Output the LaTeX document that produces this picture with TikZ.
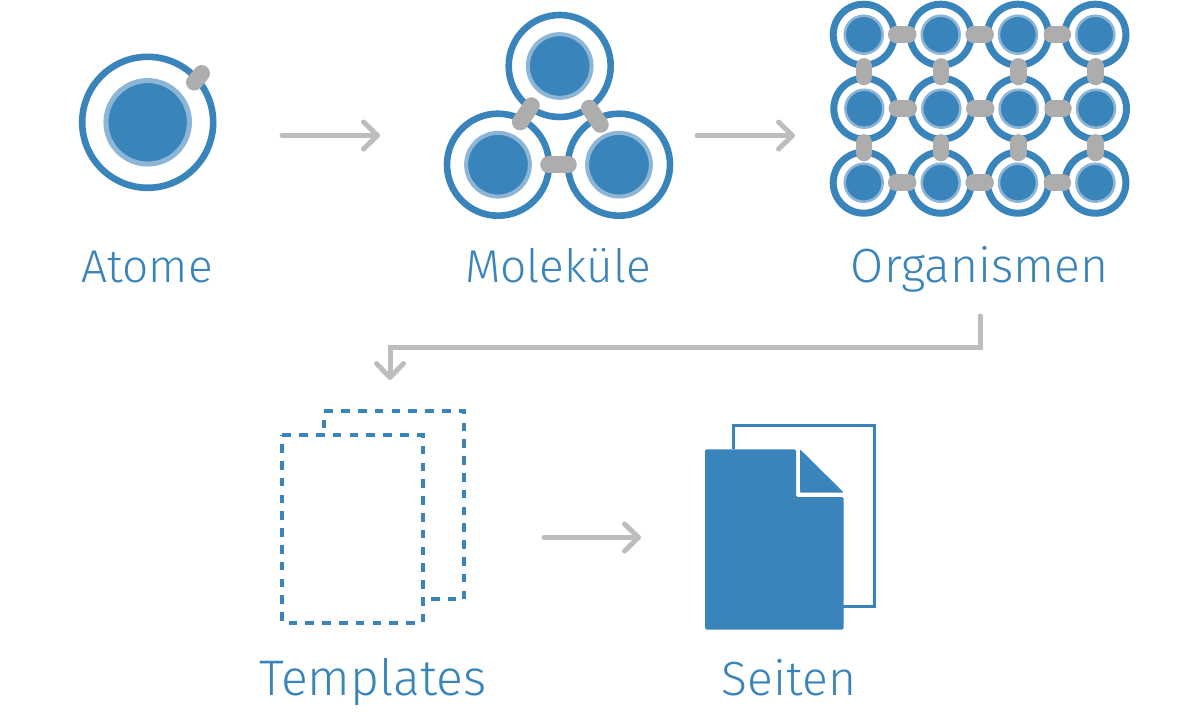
\documentclass[tikz,border=0pt]{standalone}
\usepackage{fontspec}
\setmainfont{Fira Sans Light}
\usetikzlibrary{calc,arrows.meta}
\definecolor{mainblue}{HTML}{3A84BC}
\definecolor{lightblue}{HTML}{8DB6D6}
\definecolor{bondgrey}{HTML}{ADADAD}
\definecolor{arrowgrey}{HTML}{BDBDBD}
\tikzset{
  x=1pt,y=-1pt,
  ringA/.style={circle,draw=mainblue,fill=white,line width=6.6pt,minimum size=131pt,inner sep=0pt},
  coreA/.style={circle,draw=lightblue,fill=mainblue,line width=5pt,minimum size=83.5pt,inner sep=0pt},
  ringM/.style={circle,draw=mainblue,fill=white,line width=6.6pt,minimum size=102pt,inner sep=0pt},
  coreM/.style={circle,draw=lightblue,fill=mainblue,line width=4pt,minimum size=63.7pt,inner sep=0pt},
  ringO/.style={circle,draw=mainblue,fill=white,line width=7pt,minimum size=61pt,inner sep=0pt},
  coreO/.style={circle,draw=lightblue,fill=mainblue,line width=2.5pt,minimum size=38pt,inner sep=0pt},
  bond/.style={draw=bondgrey,line width=16.5pt,line cap=round},
  flow/.style={draw=arrowgrey,line width=5pt,line cap=round,-{Straight Barb[round,length=14pt,width=27pt]}},
  label/.style={text=mainblue,inner sep=0pt,anchor=base},
  labelS/.style={label,font=\fontsize{46}{48}\selectfont},
  labelM/.style={label,font=\fontsize{48}{50}\selectfont},
  labelL/.style={label,font=\fontsize{50}{52}\selectfont},
  dashpage/.style={draw=mainblue,line width=4.2pt,dash pattern=on 8.6pt off 8.2pt},
}
\begin{document}
\begin{tikzpicture}
\useasboundingbox (0,0) rectangle (1200,712);
% Atom
\node[ringA] (atomring) at (147.7,122.3) {};
\node[coreA] (atomcore) at (147.7,122.3) {};
\coordinate (atomb1) at (194.3,82.3);
\coordinate (atomb2) at (201.7,73.3);
\draw[bond] (atomb1) -- (atomb2);
% Molecule
\node[ringM] (mt) at (559.7,66) {};
\node[coreM] (mtc) at (559.7,66) {};
\node[ringM] (ml) at (498,164.7) {};
\node[coreM] (mlc) at (498,164.7) {};
\node[ringM] (mr) at (619,164.7) {};
\node[coreM] (mrc) at (619,164.7) {};
\draw[bond] ($(ml)!.5!(mt)+(-3,-1.5)+(-5.6,8.3)$) -- ($(ml)!.5!(mt)+(-3,-1.5)+(5.6,-8.3)$);
\draw[bond] ($(mr)!.5!(mt)+(5.5,1)+(-5.6,-8.3)$) -- ($(mr)!.5!(mt)+(5.5,1)+(5.6,8.3)$);
\draw[bond] ($(ml)!.5!(mr)+(-10,0)$) -- ($(ml)!.5!(mr)+(10,0)$);
% Organism grid
\foreach \r/\y/\dx in {1/34.7/-0.3,2/108.7/0.3,3/182.7/-0.3}{
  \foreach \c/\x in {1/864,2/941,3/1018.3,4/1095.7}{
    \node[ringO] (o\r\c) at (\x+\dx,\y) {};
    \node[coreO] (oc\r\c) at (\x+\dx,\y) {};
  }
}
\foreach \r in {1,2,3}{
  \draw[bond] ($(o\r1)!.5!(o\r2)+(-6,0)$) -- ($(o\r1)!.5!(o\r2)+(6,0)$);
  \draw[bond] ($(o\r2)!.5!(o\r3)+(-5.7,0)$) -- ($(o\r2)!.5!(o\r3)+(6.3,0)$);
  \draw[bond] ($(o\r3)!.5!(o\r4)+(-4.8,0)$) -- ($(o\r3)!.5!(o\r4)+(6.2,0)$);
}
\foreach \c in {1,2,3,4}{
  \draw[bond] ($(o1\c)!.5!(o2\c)+(0,-5.3)$) -- ($(o1\c)!.5!(o2\c)+(0,5.3)$);
  \draw[bond] ($(o2\c)!.5!(o3\c)+(0,-3.3)$) -- ($(o2\c)!.5!(o3\c)+(0,7.3)$);
}
% Labels
\node[labelS] (latom) at (147,282) {Atome};
\node[labelS] (lmol) at (558,282) {Moleküle};
\node[labelM] (lorg) at (979.5,282) {Organismen};
\node[labelL] (ltpl) at (373,695.5) {Templates};
\node[labelM] (lsei) at (789,695.5) {Seiten};
% Flow arrows
\coordinate (a1s) at (282,135.5); \coordinate (a1e) at (380,135.5);
\coordinate (a2s) at (697,135.5); \coordinate (a2e) at (795,135.5);
\coordinate (a3s) at (544,537.5); \coordinate (a3e) at (641,537.5);
\coordinate (a4s) at (980,316); \coordinate (a4c1) at (980,347); \coordinate (a4c2) at (390,347); \coordinate (a4e) at (390,380);
\draw[flow] (a1s) -- (a1e);
\draw[flow] (a2s) -- (a2e);
\draw[flow] (a3s) -- (a3e);
\draw[flow] (a4s) -- (a4c1) -- (a4c2) -- (a4e);
% Templates
\coordinate (tb1) at (324.3,411.3);
\coordinate (tb2) at (464.3,411.3);
\coordinate (tb3) at (464.3,599.3);
\coordinate (tb4) at (424.7,599.3);
\coordinate (ts1) at (324.3,428.3);
\coordinate (ts2) at (324.3,420);
\draw[dashpage] (tb1) -- (tb2) -- (tb3) -- (tb4);
\draw[draw=mainblue,line width=4.2pt] (ts1) -- (ts2);
\coordinate (tf1) at (282.3,435);
\coordinate (tf2) at (422.7,435);
\coordinate (tf3) at (422.7,622.7);
\coordinate (tf4) at (282.3,622.7);
\draw[dashpage] (tf1) -- (tf2) -- (tf3) -- (tf4) -- (tf1);
% Seiten
\coordinate (sb1) at (733.5,449);
\coordinate (sb2) at (733.5,425.7);
\coordinate (sb3) at (874.3,425.7);
\coordinate (sb4) at (874.3,606.7);
\coordinate (sb5) at (843,606.7);
\draw[draw=mainblue,line width=3.4pt] (sb1) -- (sb2) -- (sb3) -- (sb4) -- (sb5);
\fill[mainblue,rounded corners=1.5pt] (705,449.3) -- (796,449.3) -- (796,497) -- (843.7,497) -- (843.7,629.5) -- (705,629.5) -- cycle;
\fill[mainblue,rounded corners=0.8pt] (800,449.3) -- (843.7,492.5) -- (800,492.5) -- cycle;
\end{tikzpicture}
\end{document}
